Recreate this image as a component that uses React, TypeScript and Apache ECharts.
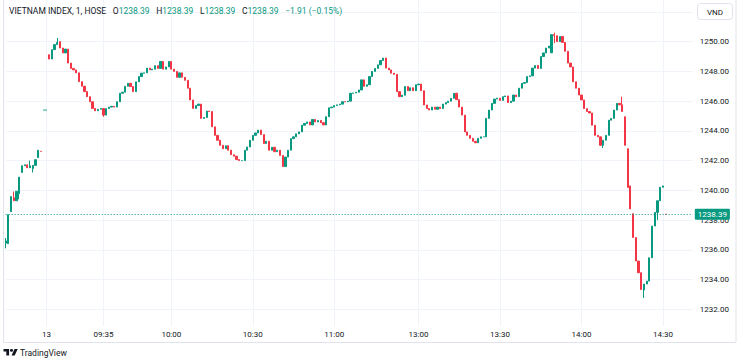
import React, { useEffect, useRef } from 'react';
import * as echarts from 'echarts';

const UP = '#089981';
const DOWN = '#F23645';
const GRID = '#f0f3fa';
const TEXT = '#131722';
const FONT = 'Roboto, "Noto Sans", sans-serif';

const TITLE = 'VIETNAM INDEX, 1, HOSE';
const LAST_OHLC = [1238.39, 1238.39, 1238.39, 1238.39];
const CHANGE = -1.91;
const CHANGE_PCT = -0.15;
const CURRENCY = 'VND';
const LAST_PRICE = 1238.39;

const PRICE_LABELS = [1232, 1234, 1236, 1238, 1240, 1242, 1244, 1246, 1248, 1250];
const GRID_LEVELS = [1232, 1234, 1236, 1238, 1240, 1242, 1244, 1246, 1248, 1250, 1252];

const TIME_LABELS: [string, string][] = [
  ['13 09:00', '13'],
  ['13 09:35', '09:35'],
  ['13 10:00', '10:00'],
  ['13 10:30', '10:30'],
  ['13 11:00', '11:00'],
  ['13 13:00', '13:00'],
  ['13 13:30', '13:30'],
  ['13 14:00', '14:00'],
  ['13 14:30', '14:30'],
];

function minuteRange(day: string, from: string, to: string): string[] {
  const toMin = (s: string) => {
    const [h, m] = s.split(':').map(Number);
    return h * 60 + m;
  };
  const out: string[] = [];
  for (let t = toMin(from); t <= toMin(to); t++) {
    out.push(`${day} ${String(Math.floor(t / 60)).padStart(2, '0')}:${String(t % 60).padStart(2, '0')}`);
  }
  return out;
}

const CATEGORIES: string[] = [
  ...minuteRange('12', '14:17', '14:30'),
  '12 14:45',
  '13 09:00',
  ...minuteRange('13', '09:15', '11:30'),
  ...minuteRange('13', '13:00', '14:30'),
  '13 14:45',
  ...minuteRange('13', '14:46', '14:55'),
];

// close of each 1-minute bar
const CLOSES = [
  1236.6, 1238.36, 1239.58, 1239.3, 1239.94, 1240.89, 1241.66, 1241.72, 1241.52, 1241.65,
  1241.68, 1242.06, 1242.7, 1242.62, 1245.4, 1245.4, 1248.83, 1249.46, 1249.8, 1249.95,
  1249.57, 1249.24, 1249.5, 1248.56, 1248.2, 1248.1, 1247.9, 1247.31, 1247.0, 1246.64,
  1246.3, 1245.96, 1245.51, 1245.35, 1245.45, 1245.5, 1245.06, 1245.5, 1245.6, 1245.65,
  1245.6, 1245.96, 1246.53, 1246.6, 1247.0, 1247.2, 1246.98, 1246.64, 1247.3, 1247.65,
  1247.88, 1247.9, 1248.22, 1248.1, 1248.15, 1248.38, 1248.2, 1248.67, 1248.15, 1248.3,
  1248.67, 1248.15, 1248.0, 1247.6, 1247.9, 1247.6, 1247.4, 1246.87, 1246.08, 1245.51,
  1245.7, 1245.8, 1244.84, 1244.9, 1245.33, 1245.3, 1244.27, 1243.7, 1243.37, 1243.03,
  1242.8, 1243.0, 1242.7, 1242.4, 1242.3, 1242.07, 1242.0, 1242.0, 1242.7, 1242.92,
  1243.37, 1243.7, 1243.86, 1244.05, 1243.75, 1243.15, 1243.3, 1242.7, 1242.9, 1242.6,
  1242.7, 1242.35, 1241.6, 1242.24, 1242.7, 1243.48, 1243.6, 1243.8, 1243.93, 1244.38,
  1244.5, 1244.6, 1244.4, 1244.77, 1244.6, 1244.7, 1244.55, 1244.4, 1244.95, 1245.55,
  1245.6, 1245.7, 1245.75, 1245.8, 1245.96, 1245.95, 1246.0, 1246.53, 1246.55, 1246.6,
  1246.75, 1247.43, 1247.0, 1247.1, 1247.65, 1248.0, 1248.2, 1248.44, 1248.73, 1248.9,
  1248.22, 1248.1, 1247.88, 1247.8, 1246.64, 1246.3, 1246.4, 1246.98, 1246.7, 1246.9,
  1246.7, 1247.1, 1247.15, 1246.7, 1245.74, 1245.5, 1245.4, 1245.6, 1245.45, 1245.6,
  1245.5, 1245.8, 1245.9, 1246.0, 1246.19, 1246.53, 1246.1, 1245.6, 1245.06, 1243.93,
  1243.7, 1243.5, 1243.3, 1243.2, 1243.5, 1243.6, 1243.6, 1244.84, 1245.4, 1245.85,
  1246.14, 1246.2, 1246.05, 1246.3, 1246.35, 1245.9, 1246.0, 1246.41, 1246.3, 1246.87,
  1247.2, 1247.25, 1247.65, 1247.7, 1248.22, 1248.4, 1248.2, 1249.0, 1249.24, 1249.57,
  1249.7, 1250.47, 1250.4, 1250.0, 1250.35, 1249.95, 1249.35, 1248.56, 1248.3, 1247.3,
  1246.87, 1246.41, 1246.08, 1245.5, 1245.3, 1245.2, 1244.38, 1243.7, 1243.6, 1243.03,
  1243.37, 1243.7, 1244.72, 1244.84, 1245.4, 1245.85, 1245.75, 1245.3, 1243.03, 1240.2,
  1238.75, 1236.83, 1235.25, 1234.46, 1233.33, 1233.7, 1233.9, 1235.47, 1237.6, 1238.52,
  1239.3, 1240.21, 1240.3, 1238.39,
];

// bars whose open is not the previous bar's close (gaps / session starts)
const OPEN_AT: Record<number, number> = {
  0: 1236.45, 1: 1236.42, 2: 1238.57, 3: 1239.5, 4: 1239.3, 5: 1239.78, 6: 1241.2,
  10: 1241.47, 12: 1242.2, 13: 1242.62, 14: 1245.4, 15: 1245.4, 16: 1249.12, 20: 1250.0,
  201: 1249.25, 228: 1244.95, 229: 1242.8, 230: 1240.3, 231: 1238.43, 235: 1233.3, 243: 1238.39,
};
// visible wicks
const HIGH_AT: Record<number, number> = {
  0: 1236.8, 3: 1239.92, 9: 1242.0, 19: 1250.25, 202: 1250.6, 227: 1246.3,
};
const LOW_AT: Record<number, number> = {
  0: 1236.1, 5: 1239.4, 10: 1241.2, 36: 1244.95, 202: 1249.9, 220: 1242.85, 235: 1232.77, 240: 1238.0,
};

echarts.graphic.registerShape(
  'tvlogo',
  echarts.graphic.extendPath('M14 22H7V11H0V4h14v18zM28 22h-8l7.5-18h8L28 22zM24 8a4 4 0 1 1 -8 0a4 4 0 1 1 8 0z', {})
);

export default function App() {
  const ref = useRef<HTMLDivElement>(null);

  useEffect(() => {
    if (!ref.current) return;
    const chart = echarts.init(ref.current, null, { renderer: 'svg' });

    const ohlc = CLOSES.map((c, i) => {
      const o = OPEN_AT[i] ?? (i === 0 ? c : CLOSES[i - 1]);
      const h = HIGH_AT[i] ?? Math.max(o, c);
      const l = LOW_AT[i] ?? Math.min(o, c);
      return [o, c, l, h];
    });

    const labelMap: Record<string, string> = {};
    TIME_LABELS.forEach(([k, v]) => (labelMap[k] = v));
    const labelIdx = new Set(TIME_LABELS.map(([k]) => CATEGORIES.indexOf(k)));

    const fmt = (v: number) => v.toFixed(2);
    const sign = (v: number) => (v < 0 ? '\u2212' : '+') + Math.abs(v).toFixed(2);

    chart.setOption({
      animation: false,
      backgroundColor: '#ffffff',
      textStyle: { fontFamily: FONT },
      grid: { left: 5.66, right: 50.2, top: 0, bottom: 38 },
      xAxis: {
        type: 'category',
        data: CATEGORIES,
        boundaryGap: false,
        axisLine: { show: false },
        axisTick: { show: false },
        axisLabel: {
          interval: (i: number) => labelIdx.has(i),
          formatter: (v: string) => labelMap[v] ?? '',
          fontSize: 8,
          color: TEXT,
          fontFamily: FONT,
          margin: 4,
        },
        splitLine: {
          show: true,
          interval: (i: number) => labelIdx.has(i),
          lineStyle: { color: GRID, width: 1 },
        },
      },
      yAxis: {
        type: 'value',
        position: 'right',
        min: 1230.88,
        max: 1252.8,
        axisLine: { show: false },
        axisTick: { show: false, customValues: GRID_LEVELS },
        axisLabel: {
          customValues: PRICE_LABELS,
          formatter: (v: number) => fmt(v),
          fontSize: 8,
          color: TEXT,
          fontFamily: FONT,
          margin: 7,
        },
        splitLine: { show: true, lineStyle: { color: GRID, width: 1 } },
      },
      series: [
        {
          type: 'candlestick',
          data: ohlc,
          barWidth: 1.7,
          itemStyle: {
            color: UP,
            color0: DOWN,
            borderColor: UP,
            borderColor0: DOWN,
            borderWidth: 1,
          },
          emphasis: { disabled: true },
          markLine: {
            silent: true,
            symbol: ['none', 'none'],
            lineStyle: { color: UP, type: [1, 2], width: 1 },
            label: {
              show: true,
              position: 'end',
              formatter: fmt(LAST_PRICE),
              backgroundColor: UP,
              color: '#ffffff',
              padding: [2, 3, 1, 3],
              borderRadius: 1,
              fontSize: 8,
              fontFamily: FONT,
              distance: 2,
            },
            emphasis: { disabled: true },
            data: [{ yAxis: LAST_PRICE }],
          },
        },
      ],
      graphic: [
        {
          type: 'rect',
          shape: { x: 3.5, y: -2, width: 732.5, height: 344.5 },
          style: { fill: 'none', stroke: '#e0e3eb', lineWidth: 1 },
          silent: true,
          z: 10,
        },
        {
          type: 'text',
          x: 9,
          y: 11,
          style: {
            text:
              `{n|${TITLE}}  {k|O}{v|${fmt(LAST_OHLC[0])}}  {k|H}{v|${fmt(LAST_OHLC[1])}}  ` +
              `{k|L}{v|${fmt(LAST_OHLC[2])}}  {k|C}{v|${fmt(LAST_OHLC[3])}}  {v|${sign(CHANGE)} (${sign(CHANGE_PCT)}%)}`,
            verticalAlign: 'middle',
            rich: {
              n: { fontSize: 8.5, fill: TEXT, fontFamily: FONT },
              k: { fontSize: 8.5, fill: TEXT, fontFamily: FONT },
              v: { fontSize: 8.5, fill: UP, fontFamily: FONT },
            },
          },
          z: 20,
        },
        {
          type: 'rect',
          shape: { x: 697.5, y: 3.5, width: 35, height: 16, r: 3 },
          style: { fill: '#ffffff', stroke: '#e0e3eb', lineWidth: 1 },
          z: 20,
        },
        {
          type: 'text',
          x: 715,
          y: 12,
          style: {
            text: CURRENCY,
            fontSize: 8,
            fill: TEXT,
            fontFamily: FONT,
            align: 'center',
            verticalAlign: 'middle',
          },
          z: 21,
        },
        {
          type: 'tvlogo',
          x: 3.5,
          y: 347.5,
          scaleX: 0.4,
          scaleY: 0.36,
          style: { fill: TEXT },
          z: 20,
        },
        {
          type: 'text',
          x: 20,
          y: 353,
          style: {
            text: 'TradingView',
            fontSize: 8.5,
            fill: TEXT,
            fontFamily: FONT,
            verticalAlign: 'middle',
          },
          z: 20,
        },
      ],
    });

    return () => chart.dispose();
  }, []);

  return (
    <div
      ref={ref}
      style={{ position: 'fixed', left: 0, top: 0, width: 743, height: 364, background: '#fff' }}
    />
  );
}
